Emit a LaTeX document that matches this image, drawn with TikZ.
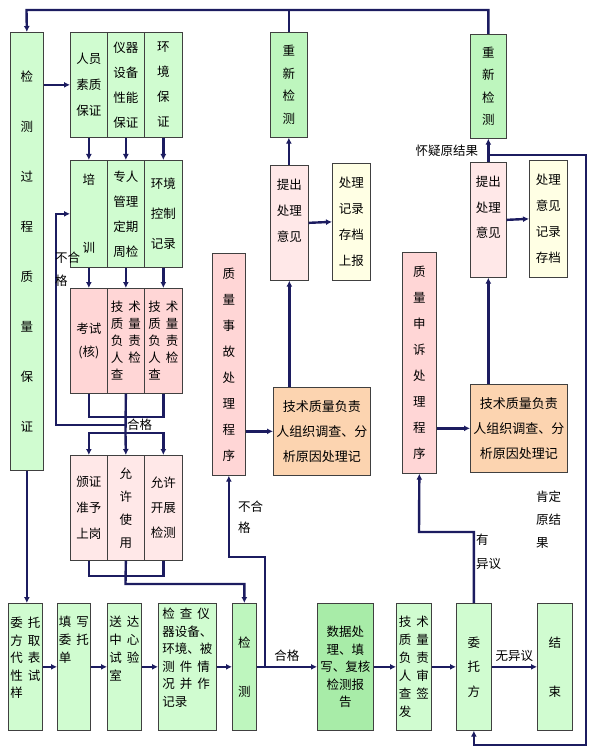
\documentclass[tikz,border=0pt]{standalone}
\usepackage{fontspec}
\newfontfamily\cjk{Noto Sans CJK SC}
\usepackage{xcolor}
\usetikzlibrary{arrows.meta}

\definecolor{navy}{RGB}{28,28,96}
\definecolor{gLight}{RGB}{208,252,208}
\definecolor{gMid}{RGB}{190,246,190}
\definecolor{gDark}{RGB}{168,236,168}
\definecolor{pinkA}{RGB}{255,214,214}
\definecolor{pinkB}{RGB}{255,232,232}
\definecolor{cream}{RGB}{255,255,228}
\definecolor{orng}{RGB}{252,212,176}
\newcommand{\kg}{\hspace{5pt}}

\begin{document}
\begin{tikzpicture}[x=1pt, y=-1pt,
    box/.style={draw=black!75, line width=0.7pt, anchor=north west, inner sep=0pt, align=center},
    lh/.style={font=\cjk\fontsize{12.5}{#1}\selectfont},
    flow/.style={draw=navy, line width=2.4pt, -{Latex[length=6pt,width=6pt]}},
    link/.style={draw=navy, line width=2.4pt},
    lbl/.style={inner sep=0pt, align=left, lh=#1}]
    \fill[white] (0,0) rectangle (596,754);
    \useasboundingbox (0,0) rectangle (596,754);

    % Left column
    \node[box, fill=gLight, lh=50, minimum width=33, minimum height=438] (qc) at (10,32)
        {检\\测\\过\\程\\质\\量\\保\\证};

    % Quality assurance groups
    \node[box, fill=gLight, lh=26, minimum width=37, minimum height=105] (rs) at (70,32) {人员\\素质\\保证};
    \node[box, fill=gLight, lh=25, minimum width=37, minimum height=105] (yq) at (107,32) {仪器\\设备\\性能\\保证};
    \node[box, fill=gLight, lh=25, minimum width=38, minimum height=105] (hj) at (144,32) {环\\境\\保\\证};

    \node[box, fill=gLight, lh=68, minimum width=37, minimum height=107] (px) at (70,160) {培\\训};
    \node[box, fill=gLight, lh=25, minimum width=37, minimum height=107] (zr) at (107,160) {专人\\管理\\定期\\周检};
    \node[box, fill=gLight, lh=30, minimum width=38, minimum height=107] (hk) at (144,160) {环境\\控制\\记录};

    \node[box, fill=pinkA, lh=23, minimum width=37, minimum height=105] (ks) at (70,288) {考试\\(核)};
    \node[box, fill=pinkA, lh=17, align=left, minimum width=37, minimum height=105] (jc1) at (107,288)
        {技\kg 术\\质\kg 量\\负\kg 责\\人\kg 检\\查};
    \node[box, fill=pinkA, lh=17, align=left, minimum width=38, minimum height=105] (jc2) at (144,288)
        {技\kg 术\\质\kg 量\\负\kg 责\\人\kg 检\\查};

    \node[box, fill=pinkB, lh=26, minimum width=37, minimum height=105] (bz) at (70,455) {颁证\\准予\\上岗};
    \node[box, fill=pinkB, lh=23, minimum width=37, minimum height=105] (yx) at (107,455) {允\\许\\使\\用};
    \node[box, fill=pinkB, lh=25, minimum width=38, minimum height=105] (yk) at (144,455) {允许\\开展\\检测};

    % Bottom row
    \node[box, fill=gLight, minimum width=34, minimum height=127,
        label={[lbl=17.5, align=left, anchor=north, yshift=-14]north:{委\kg 托\\方\kg 取\\代\kg 表\\性\kg 试\\样}}] (wt) at (8,603) {};
    \node[box, fill=gLight, minimum width=33, minimum height=127,
        label={[lbl=18, align=left, anchor=north, yshift=-13]north:{填\kg 写\\委\kg 托\\单}}] (tx) at (57,603) {};
    \node[box, fill=gLight, minimum width=34, minimum height=127,
        label={[lbl=18, align=left, anchor=north, yshift=-13]north:{送\kg 达\\中\kg 心\\试\kg 验\\室}}] (sd) at (107,603) {};
    \node[box, fill=gLight, minimum width=58, minimum height=127,
        label={[lbl=17.5, align=left, anchor=north, yshift=-5]north:{检\kg 查\kg 仪\\器设备、\\环境、被\\测\kg 件\kg 情\\况\kg 并\kg 作\\记录}}] (jcyq) at (158,603) {};
    \node[box, fill=gMid, lh=49, minimum width=24, minimum height=127] (jc) at (232,603) {检\\测};
    \node[box, fill=gDark, lh=17.5, minimum width=56, minimum height=127] (sj) at (317,603)
        {数据处\\理、填\\写、复核\\检测报\\告};
    \node[box, fill=gLight, lh=18, align=left, minimum width=35, minimum height=127] (jg) at (396,603)
        {技\kg 术\\质\kg 量\\负\kg 责\\人\kg 审\\查\kg 签\\发};
    \node[box, fill=gLight, lh=24.5, minimum width=35, minimum height=127] (wtf) at (456,603) {委\\托\\方};
    \node[box, fill=gLight, lh=49, minimum width=35, minimum height=127] (js) at (537,603) {结\\束};

    % Quality accident branch
    \node[box, fill=gMid, lh=22.5, minimum width=37, minimum height=105] (rcL) at (270,32) {重\\新\\检\\测};
    \node[box, fill=pinkB, minimum width=38, minimum height=115,
        label={[lbl=26, align=center, anchor=north, yshift=-14]north:{提出\\处理\\意见}}] (tcL) at (270,165) {};
    \node[box, fill=cream, lh=26, minimum width=38, minimum height=117] (jlL) at (332,163) {处理\\记录\\存档\\上报};
    \node[box, fill=pinkA, lh=26, minimum width=33, minimum height=222] (sg) at (212,253)
        {质\\量\\事\\故\\处\\理\\程\\序};
    \node[box, fill=orng, font=\cjk\fontsize{13}{25}\selectfont, minimum width=97, minimum height=88] (dcL) at (273,387)
        {技术质量负责\\人组织调查、分\\析原因处理记};

    % Quality complaint branch
    \node[box, fill=gMid, lh=22.5, minimum width=36, minimum height=104] (rcR) at (470,34) {重\\新\\检\\测};
    \node[box, fill=pinkB, minimum width=36, minimum height=115,
        label={[lbl=25.5, align=center, anchor=north, yshift=-14]north:{提出\\处理\\意见}}] (tcR) at (470,162) {};
    \node[box, fill=cream, lh=26, minimum width=38, minimum height=117] (jlR) at (529,160) {处理\\意见\\记录\\存档};
    \node[box, fill=pinkA, lh=26, minimum width=34, minimum height=221] (ss) at (402,252)
        {质\\量\\申\\诉\\处\\理\\程\\序};
    \node[box, fill=orng, font=\cjk\fontsize{13}{25}\selectfont, minimum width=97, minimum height=88] (dcR) at (470,384)
        {技术质量负责\\人组织调查、分\\析原因处理记};

    % Top return line
    \coordinate (tl) at (26.5,10);
    \draw[flow] (rcR.north) |- (tl) -- (qc.north);
    \draw[link] (rcL.north) -- (rcL.north |- tl);

    % Assurance flow
    \draw[flow] (qc.east |- rs.west) -- (rs.west);
    \draw[flow] (rs.south) -- (px.north);
    \draw[flow] (yq.south) -- (zr.north);
    \draw[flow] (hj.south) -- (hk.north);
    \draw[flow] (px.south) -- (ks.north);
    \draw[flow] (zr.south) -- (jc1.north);
    \draw[flow] (hk.south) -- (jc2.north);

    \coordinate (jn) at (125.5,417);
    \coordinate (bhg) at (56,425);
    \coordinate (hg) at (125.5,433);
    \draw[link] (ks.south) |- (jn) -| (jc2.south);
    \draw[link] (jc1.south) -- (hg);
    \draw[flow] (jc1.south |- bhg) -- (bhg) |- (px.west);
    \draw[flow] (hg) -| (bz.north);
    \draw[flow] (hg) -- (yx.north);
    \draw[flow] (hg) -| (yk.north);
    \node[lbl=23, anchor=north west] (bhgL) at (55,252) {不合\\格};
    \node[lbl=14, anchor=west] (hgL) at (127,425) {合格};

    \coordinate (jn2) at (125.5,576);
    \coordinate (hg2) at (125.5,584);
    \draw[link] (bz.south) |- (jn2) -| (yk.south);
    \draw[flow] (yx.south) -- (hg2) -| (jc.north);

    % Bottom flow
    \draw[flow] (qc.south) -- (qc.south |- wt.north);
    \draw[flow] (wt.east) -- (tx.west);
    \draw[flow] (tx.east) -- (sd.west);
    \draw[flow] (sd.east) -- (jcyq.west);
    \draw[flow] (jcyq.east) -- (jc.west);
    \draw[flow] (jc.east) -- node[above=4pt, lbl=14] {合格} (sj.west);
    \draw[flow] (sj.east) -- (jg.west);
    \draw[flow] (jg.east) -- (wtf.west);
    \draw[flow] (wtf.east) -- node[above=4pt, lbl=14] {无异议} (js.west);

    % Accident branch flow
    \coordinate (bh2) at (265,557);
    \draw[flow] (jc.east -| bh2) -- (bh2) -| (sg.south);
    \node[lbl=21, anchor=north west] (bh2L) at (238,501) {不合\\格};
    \draw[flow] (sg.east |- dcL.west) -- (dcL.west);
    \draw[flow] (tcL.south |- dcL.north) -- (tcL.south);
    \draw[flow] (tcL.east) -- (jlL.west);
    \draw[flow] (rcL.south |- tcL.north) -- (rcL.south);

    % Complaint branch flow
    \coordinate (yy) at (419,532);
    \draw[flow] (wtf.north) |- (yy) -- (ss.south);
    \node[lbl=24, anchor=north west] (yyL) at (476,534) {有\\异议};
    \draw[flow] (ss.east |- dcR.west) -- (dcR.west);
    \draw[flow] (tcR.south |- dcR.north) -- (tcR.south);
    \draw[flow] (tcR.east) -- (jlR.west);
    \draw[flow] (tcR.north) -- node[left=9pt, lbl=14] {怀疑原结果} (rcR.south);

    \coordinate (kd1) at (586,155);
    \coordinate (kd2) at (586,745);
    \draw[flow] (tcR.north |- kd1) -- (kd1) -- (kd2) -| (wtf.south);
    \node[lbl=23, anchor=north west] (kdL) at (536,491) {肯定\\原结\\果};
\end{tikzpicture}
\end{document}
